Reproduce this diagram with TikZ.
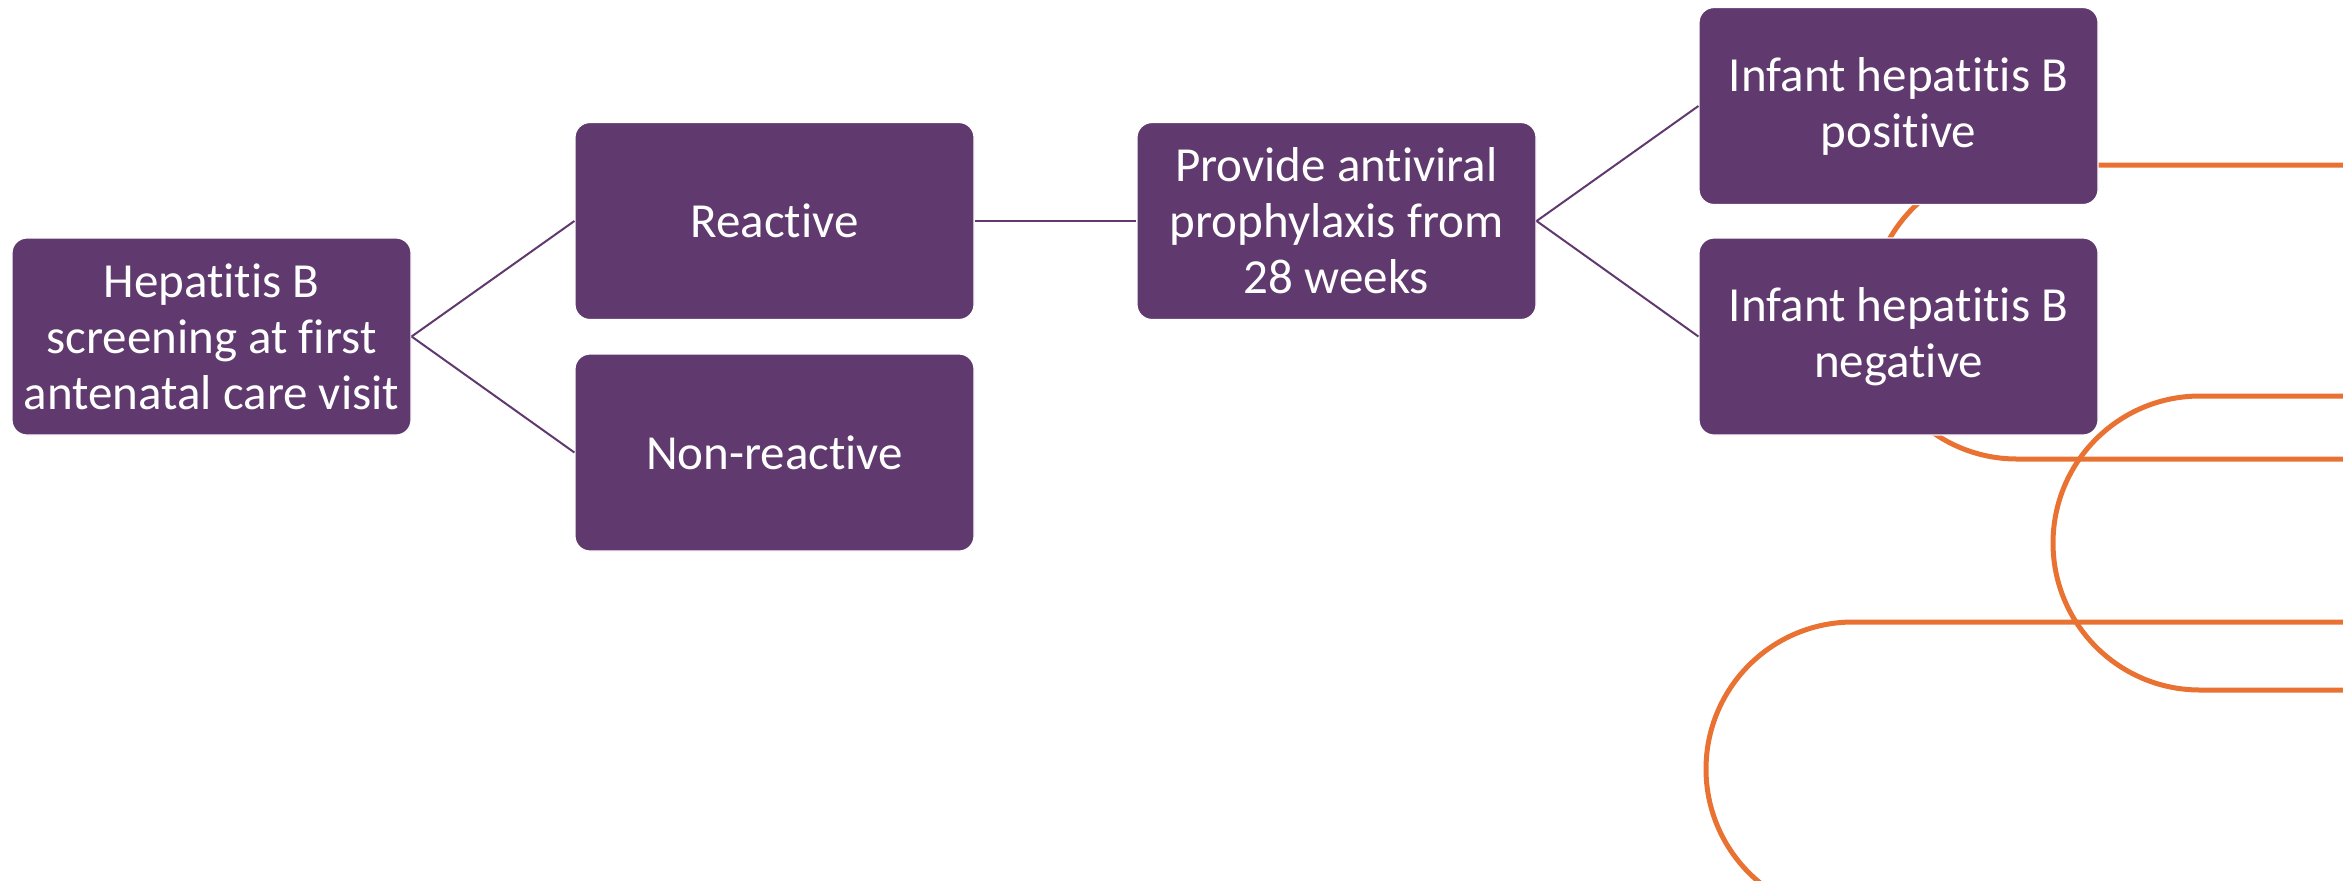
\documentclass[tikz,border=0pt]{standalone}
\usepackage{fontspec}
\setmainfont{Carlito}[RawFeature={-liga;-clig;-calt;-dlig}]
\definecolor{hbpurple}{RGB}{96,57,110}
\definecolor{hborange}{RGB}{233,113,50}
\tikzset{
  hbbox/.style={rectangle, rounded corners=7.5pt, fill=hbpurple, draw=white, line width=0.6pt,
    minimum width=199.5pt, minimum height=98.5pt, inner sep=2pt, align=center,
    text=white, font=\fontsize{24.5}{28}\selectfont},
  hblink/.style={draw=hbpurple, line width=1pt},
  hbdeco/.style={draw=hborange, line width=2.5pt}
}
\begin{document}
\begin{tikzpicture}[x=0.5pt,y=0.5pt]
\useasboundingbox (0,0) rectangle (2343,-880);
\clip (0,0) rectangle (2343,-880);
% orange decoration
\draw[hbdeco] (2360,-165) -- (2017,-165) arc(90:270:147) -- (2360,-459);
\draw[hbdeco] (2360,-396) -- (2200,-396) arc(90:270:147) -- (2360,-690);
\draw[hbdeco] (2360,-622) -- (1853,-622) arc(90:270:147) -- (2360,-916);
% boxes
\node[hbbox] (scr) at (211.5,-336.5) {Hepatitis B\\screening at first\\antenatal care visit};
\node[hbbox] (rea) at (774.5,-221) {Reactive};
\node[hbbox] (non) at (774.5,-452.5) {Non-reactive};
\node[hbbox] (pro) at (1336.5,-221) {Provide antiviral\\prophylaxis from\\28 weeks};
\node[hbbox] (pos) at (1898.5,-106) {Infant hepatitis B\\positive};
\node[hbbox] (neg) at (1898.5,-336.5) {Infant hepatitis B\\negative};
% connectors
\draw[hblink] (scr.east) -- (rea.west);
\draw[hblink] (scr.east) -- (non.west);
\draw[hblink] (rea.east) -- (pro.west);
\draw[hblink] (pro.east) -- (pos.west);
\draw[hblink] (pro.east) -- (neg.west);
\end{tikzpicture}
\end{document}
